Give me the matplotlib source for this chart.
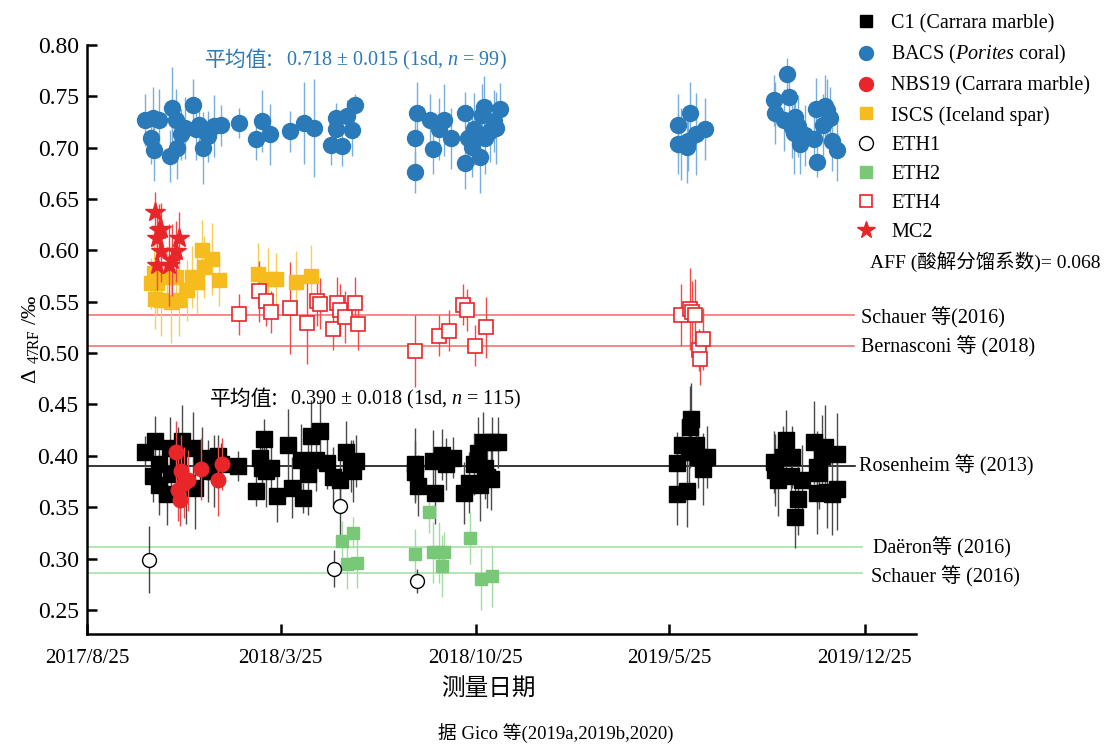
import numpy as np
import pandas as pd
import matplotlib
matplotlib.use("Agg")
import matplotlib.pyplot as plt
from matplotlib.lines import Line2D

plt.rcParams['font.family'] = ['Liberation Serif', 'Noto Sans CJK SC']
plt.rcParams['mathtext.fontset'] = 'custom'
plt.rcParams['mathtext.rm'] = 'Liberation Serif'
plt.rcParams['mathtext.it'] = 'Liberation Serif:italic'

start = pd.Timestamp('2017-08-25')

# days after 2017/8/25, value, 1sd
bacs_day = [64, 72, 79, 70, 73, 91, 93, 97, 99, 103, 107, 116, 119, 123, 127, 133, 139, 147,
            166, 185, 192, 200, 222, 238, 249, 267, 273, 273, 279, 285, 290, 294,
            359, 359, 361, 376, 379, 386, 391, 399, 414, 414, 417, 422, 424, 430, 433, 435,
            436, 441, 446, 448, 452,
            647, 647, 651, 657, 658, 661, 667, 677,
            752, 754, 763, 767, 769, 772, 774, 776, 779, 781, 786, 796, 798, 800, 806, 808,
            810, 814, 816, 821]
bacs_val = [.727, .729, .727, .709, .698, .692, .739, .727, .700, .713, .719, .742, .718, .722,
            .700, .711, .721, .722, .724, .708, .726, .713, .716, .724, .719, .703, .729, .718,
            .702, .731, .717, .742,
            .676, .709, .734, .727, .699, .718, .727, .709, .734, .685, .709, .701, .718, .691,
            .732, .740, .709, .716, .726, .719, .738,
            .722, .704, .704, .701, .707, .734, .713, .718,
            .746, .734, .727, .772, .749, .720, .714, .730, .721, .704, .712, .708, .738, .686,
            .722, .741, .737, .729, .707, .698]
bacs_err = [.025, .030, .030, .025, .030, .025, .040, .030, .030, .025, .030, .025, .030, .025,
            .035, .025, .030, .020, .015, .020, .030, .030, .020, .040, .048, .020, .015, .020,
            .020, .015, .025, .010,
            .020, .025, .030, .025, .025, .030, .035, .030, .020, .025, .030, .030, .035, .035,
            .030, .030, .035, .030, .030, .035, .025,
            .030, .030, .035, .035, .030, .030, .040, .030,
            .025, .030, .030, .015, .030, .030, .040, .025, .030, .030, .030, .030, .030, .015,
            .030, .030, .030, .030, .030, .030]

c1_day = [63, 72, 75, 79, 79, 88, 91, 92, 100, 104, 108, 116, 118, 126, 132, 139, 143, 147,
          165, 185, 190, 192, 194, 196, 202, 208, 220, 225, 234, 237, 242, 245, 255, 251, 263,
          269, 277, 284, 289, 291, 295,
          359, 359, 362, 379, 381, 389, 393, 401, 413, 418, 424, 428, 430, 436, 438, 442, 434,
          444, 450,
          646, 646, 652, 657, 659, 661, 662, 667, 669, 675, 679,
          752, 754, 757, 762, 766, 771, 772, 776, 779, 783, 796, 800, 800, 802, 805, 808, 810,
          816, 821, 822]
c1_val = [.404, .380, .414, .392, .372, .363, .408, .382, .398, .414, .374, .408, .369, .398,
          .385, .385, .400, .392, .390, .366, .398, .388, .416, .385, .388, .361, .411, .369,
          .396, .359, .382, .419, .424, .396, .393, .379, .376, .404, .390, .385, .395,
          .392, .384, .371, .395, .364, .401, .392, .398, .364, .374, .392, .403, .372, .388,
          .379, .377, .413, .413, .413,
          .393, .363, .411, .366, .404, .428, .436, .411, .399, .387, .399,
          .394, .386, .376, .399, .415, .380, .399, .340, .358, .376, .413, .389, .364, .383,
          .400, .409, .365, .363, .368, .402]
c1_err = [.015, .025, .025, .030, .030, .030, .030, .025, .030, .035, .040, .035, .040, .030,
          .030, .035, .020, .020, .015, .015, .020, .030, .020, .035, .030, .025, .035, .030,
          .035, .015, .040, .035, .030, .030, .025, .030, .030, .030, .025, .030, .025,
          .035, .030, .030, .030, .030, .025, .025, .020, .030, .030, .030, .035, .035, .030,
          .030, .030, .030, .025, .025,
          .030, .030, .025, .035, .035, .040, .035, .030, .030, .035, .030,
          .030, .035, .035, .030, .030, .030, .030, .030, .035, .035, .040, .035, .040, .035,
          .040, .040, .035, .040, .040, .040]

nbs19_day = [97, 100, 102, 103, 106, 111, 125, 143, 148]
nbs19_val = [.404, .367, .357, .385, .374, .376, .387, .376, .392]
nbs19_err = [.030, .030, .025, .035, .035, .030, .030, .035, .025]

iscs_day = [70, 73, 75, 77, 81, 88, 92, 97, 101, 110, 115, 121, 126, 128, 137, 145,
            187, 198, 207, 229, 245]
iscs_val = [.568, .578, .553, .568, .552, .574, .550, .574, .552, .561, .574, .569, .600, .584,
            .592, .571, .577, .572, .572, .569, .575]
iscs_err = [.025, .030, .030, .030, .035, .030, .040, .030, .035, .030, .030, .030, .030, .030,
            .035, .025, .030, .030, .025, .030, .030]

eth1_day = [68, 271, 277, 361]
eth1_val = [.299, .290, .351, .278]
eth1_err = [.033, .018, .030, .012]

eth2_day = [279, 285, 291, 296, 359, 375, 379, 385, 389, 391, 419, 432, 444]
eth2_val = [.317, .295, .325, .296, .304, .345, .306, .306, .293, .306, .320, .280, .283]
eth2_err = [.020, .025, .015, .025, .025, .020, .030, .030, .030, .020, .025, .030, .030]

eth4_day = [166, 188, 196, 201, 222, 241, 252, 255, 269, 274, 277, 283, 293, 297,
            359, 385, 396, 412, 416, 425, 437,
            651, 661, 663, 666, 670, 671, 675]
eth4_val = [.538, .560, .551, .540, .544, .529, .551, .548, .523, .549, .542, .535, .549, .528,
            .502, .517, .522, .547, .542, .507, .525,
            .537, .543, .540, .537, .503, .494, .514]
eth4_err = [.020, .030, .025, .020, .045, .040, .025, .025, .020, .025, .025, .025, .025, .025,
            .035, .020, .020, .020, .020, .020, .030,
            .030, .040, .030, .035, .020, .025, .030]

mc2_day = [75, 77, 77, 79, 81, 81, 90, 93, 97, 101]
mc2_val = [.637, .612, .586, .620, .621, .599, .586, .591, .599, .612]
mc2_err = [.020, .025, .025, .025, .025, .030, .040, .035, .030, .025]

# reference lines: value, label
ref_lines = [(0.537, 'Schauer 等(2016)'), (0.507, 'Bernasconi 等 (2018)'),
             (0.390, 'Rosenheim 等 (2013)'), (0.311, 'Daëron等 (2016)'),
             (0.286, 'Schauer 等 (2016)')]

tick_dates = ['2017-08-25', '2018-03-25', '2018-10-25', '2019-05-25', '2019-12-25']
tick_labels = ['2017/8/25', '2018/3/25', '2018/10/25', '2019/5/25', '2019/12/25']


def to_date(days):
    return start + pd.to_timedelta(np.array(days), unit='D')


W, H = 1110, 744
fig = plt.figure(figsize=(W / 100, H / 100), dpi=100)
ax = fig.add_axes([87 / W, 1 - 634 / H, (916 - 87) / W, (634 - 45) / H])

# reference lines behind the points
line_styles = ['#f26a6a', '#f26a6a', 'black', '#9fdc9f', '#9fdc9f']
line_end = [0.925, 0.925, 0.927, 0.935, 0.935]
label_pos = [(861, 318), (861, 347), (859, 466), (873, 548), (871, 577)]
for (val, lab), col, xm, (px, py) in zip(ref_lines, line_styles, line_end, label_pos):
    ax.axhline(val, xmin=0, xmax=xm, color=col, lw=1.1, zorder=1)
    fig.text(px / W, 1 - py / H, lab, fontsize=14.5, va='center', ha='left')


def series(days, vals, errs, marker, ms, face, edge, ecol, mew=1.0, z=3):
    ax.errorbar(to_date(days), vals, yerr=errs, fmt=marker, ms=ms, mfc=face, mec=edge,
                mew=mew, ecolor=ecol, elinewidth=1.0, capsize=0, zorder=z)


series(bacs_day, bacs_val, bacs_err, 'o', 11.5, '#2a79b8', '#2a79b8', '#78aedd')
series(iscs_day, iscs_val, iscs_err, 's', 10, '#f6bb1c', '#f6bb1c', '#f8cd55')
series(eth4_day, eth4_val, eth4_err, 's', 10, 'white', '#e8262a', '#f04a4a', mew=1.2)
series(mc2_day, mc2_val, mc2_err, '*', 15, '#e8262a', '#e8262a', '#ee4a4a', z=4)
series(c1_day, c1_val, c1_err, 's', 12, 'black', 'black', '#4a4a4a')
series(nbs19_day, nbs19_val, nbs19_err, 'o', 10.5, '#e8262a', '#e8262a', '#ee4a4a', z=4)
series(eth2_day, eth2_val, eth2_err, 's', 9, '#78c878', '#78c878', '#a5dca5')
series(eth1_day, eth1_val, eth1_err, 'o', 10, 'white', 'black', '#444444', mew=1.0)

ax.set_xlim(start, pd.Timestamp('2020-02-19'))
ax.set_ylim(0.2265, 0.80)
ax.set_xticks(pd.to_datetime(tick_dates))
ax.set_xticklabels(tick_labels, fontsize=15)
ax.set_yticks(np.arange(0.25, 0.801, 0.05))
ax.set_yticklabels(['%.2f' % v for v in np.arange(0.25, 0.801, 0.05)], fontsize=17)
ax.tick_params(direction='in', length=7, width=1.8, pad=6)
ax.tick_params(axis='x', pad=11)
for s in ['top', 'right']:
    ax.spines[s].set_visible(False)
for s in ['left', 'bottom']:
    ax.spines[s].set_linewidth(1.8)

ax.set_ylabel('Δ $_{\\rm 47RF}$ /‰', fontsize=16, family='Liberation Serif')
ax.yaxis.set_label_coords(-0.055, 0.5)

# mean annotations
fig.text(205 / W, 1 - 60 / H, '平均值:', fontsize=15, color='#2a79b8', va='center',
         family='Noto Sans CJK SC')
fig.text(286 / W, 1 - 60 / H, '0.718 ± 0.015 (1sd, $n$ = 99)', fontsize=14.5,
         color='#2a79b8', va='center', family='Liberation Serif')
fig.text(210 / W, 1 - 399 / H, '平均值:', fontsize=15, color='black', va='center',
         family='Noto Sans CJK SC')
fig.text(290 / W, 1 - 399 / H, '0.390 ± 0.018 (1sd, $n$ = 115)', fontsize=14.5,
         color='black', va='center', family='Liberation Serif')

# legend
handles = [
    Line2D([], [], ls='none', marker='s', ms=9, mfc='black', mec='black'),
    Line2D([], [], ls='none', marker='o', ms=10, mfc='#2a79b8', mec='#2a79b8'),
    Line2D([], [], ls='none', marker='o', ms=10, mfc='#e8262a', mec='#e8262a'),
    Line2D([], [], ls='none', marker='s', ms=9, mfc='#f6bb1c', mec='#f6bb1c'),
    Line2D([], [], ls='none', marker='o', ms=10, mfc='white', mec='black'),
    Line2D([], [], ls='none', marker='s', ms=9, mfc='#78c878', mec='#78c878'),
    Line2D([], [], ls='none', marker='s', ms=9, mfc='white', mec='#e8262a', mew=1.2),
    Line2D([], [], ls='none', marker='*', ms=13, mfc='#e8262a', mec='#e8262a'),
]
labels = ['C1 (Carrara marble)', 'BACS ($Porites$ coral)', 'NBS19 (Carrara marble)',
          'ISCS (Iceland spar)', 'ETH1', 'ETH2', 'ETH4', 'MC2']
fig.legend(handles, labels, loc='upper left', bbox_to_anchor=(846 / W, 1 - 4 / H),
           frameon=False, handlelength=1.0, handletextpad=0.75,
           labelspacing=0.5, borderpad=0, prop={'family': 'Liberation Serif', 'size': 14.5})
fig.text(870 / W, 1 - 262 / H, 'AFF (酸解分馏系数)= 0.068', fontsize=14, va='center')

fig.text(488 / W, 1 - 690 / H, '测量日期', fontsize=17, ha='center', va='center')
fig.text(556 / W, 1 - 733 / H, '据 Gico 等(2019a,2019b,2020)', fontsize=13.5, ha='center',
         va='center')

fig.savefig('out.png', dpi=100)
